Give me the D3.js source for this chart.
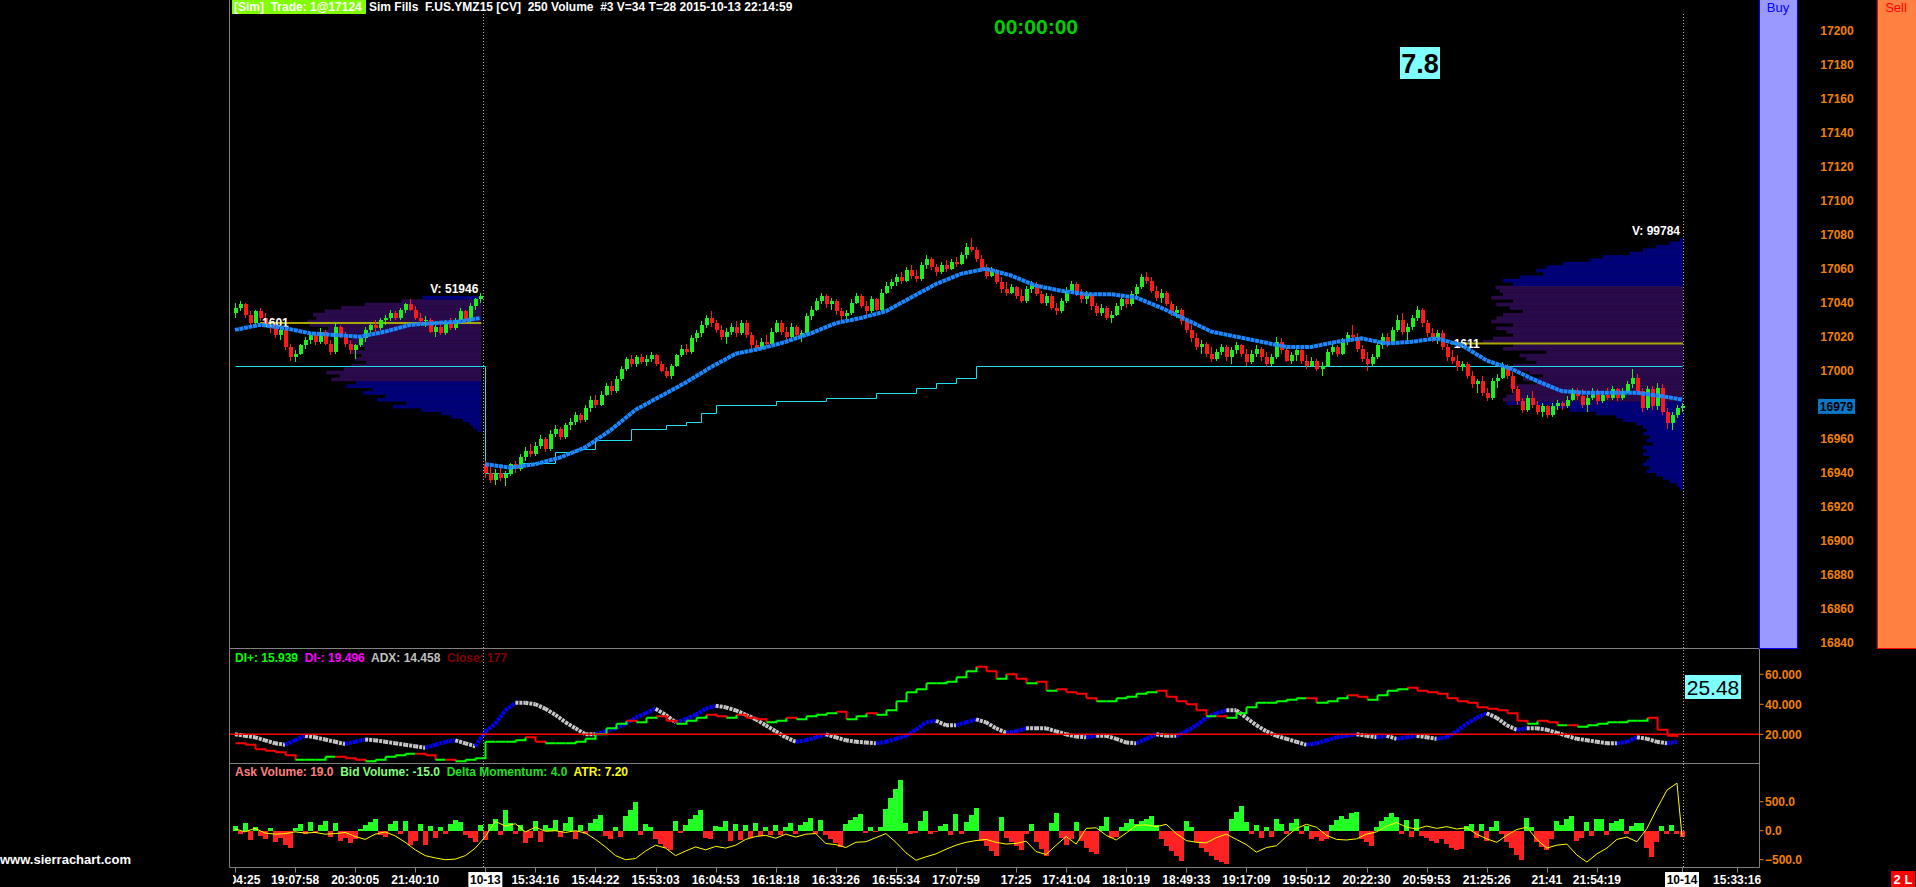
<!DOCTYPE html>
<html>
<head>
<meta charset="utf-8">
<style>
  html, body { margin: 0; padding: 0; background: #000; overflow: hidden; }
  svg { display: block; }
  text { font-family: "Liberation Sans", Arial, sans-serif; white-space: pre; }
</style>
</head>
<body>
<svg width="1916" height="887"></svg>
<script src="https://cdn.jsdelivr.net/npm/d3@7"></script>
<script>
// **** 250 volume bars, YMZ15, two sessions (10-12 night / 10-13 day) ****

// [open, high, low, close] per bar
const candles = [
  [17034,17040,17031,17037],[17037,17041,17035,17039],[17039,17040,17031,17033],[17033,17035,17026,17028],[17028,17036,17027,17035],
  [17035,17037,17029,17031],[17031,17034,17026,17027],[17027,17031,17022,17025],[17025,17028,17019,17021],[17021,17026,17018,17024],
  [17024,17025,17012,17014],[17014,17016,17006,17008],[17008,17012,17005,17010],[17010,17016,17009,17015],[17015,17020,17013,17018],
  [17018,17022,17016,17021],[17021,17023,17015,17017],[17017,17025,17016,17023],[17023,17024,17015,17016],[17016,17018,17009,17011],
  [17011,17028,17010,17026],[17026,17027,17019,17020],[17020,17023,17014,17016],[17016,17018,17010,17012],[17012,17016,17007,17015],
  [17015,17021,17014,17019],[17019,17026,17017,17024],[17024,17028,17022,17027],[17027,17030,17023,17025],[17025,17031,17024,17030],
  [17030,17033,17027,17031],[17031,17036,17029,17034],[17034,17035,17030,17031],[17031,17037,17030,17036],[17036,17040,17034,17039],
  [17039,17042,17035,17036],[17036,17038,17030,17031],[17031,17034,17027,17029],[17029,17032,17026,17030],[17030,17031,17022,17023],
  [17023,17028,17020,17026],[17026,17029,17021,17022],[17022,17030,17021,17028],[17028,17031,17024,17025],[17025,17031,17024,17030],
  [17030,17037,17029,17035],[17035,17036,17028,17029],[17029,17040,17028,17038],[17038,17043,17036,17042],[17042,17046,17040,17044],
  [16945,16947,16937,16940],[16940,16944,16934,16936],[16936,16942,16933,16940],[16940,16943,16935,16937],[16937,16941,16932,16939],
  [16939,16946,16938,16945],[16945,16947,16940,16942],[16942,16951,16941,16949],[16949,16955,16947,16953],[16953,16957,16949,16951],
  [16951,16958,16950,16956],[16956,16962,16954,16960],[16960,16961,16952,16954],[16954,16965,16953,16963],[16963,16968,16961,16966],
  [16966,16967,16959,16961],[16961,16969,16960,16968],[16968,16972,16965,16970],[16970,16976,16968,16974],[16974,16975,16969,16971],
  [16971,16980,16970,16978],[16978,16985,16976,16983],[16983,16986,16978,16980],[16980,16988,16979,16986],[16986,16993,16985,16991],
  [16991,16994,16986,16988],[16988,16997,16987,16995],[16995,17003,16994,17001],[17001,17008,17000,17007],[17007,17009,17002,17004],
  [17004,17009,17002,17008],[17008,17010,17004,17005],[17005,17009,17003,17007],[17007,17011,17005,17009],[17009,17010,17003,17004],
  [17004,17006,16999,17000],[17000,17002,16996,16997],[16997,17004,16995,17003],[17003,17010,17002,17009],[17009,17015,17008,17013],
  [17013,17016,17009,17011],[17011,17021,17010,17019],[17019,17024,17017,17022],[17022,17029,17020,17027],[17027,17033,17025,17031],
  [17031,17035,17026,17028],[17028,17030,17022,17024],[17024,17027,17018,17020],[17020,17025,17016,17023],[17023,17028,17021,17026],
  [17026,17029,17020,17022],[17022,17030,17021,17028],[17028,17030,17019,17021],[17021,17023,17013,17015],[17015,17018,17011,17013],
  [17013,17019,17012,17017],[17017,17021,17014,17016],[17016,17025,17015,17023],[17023,17030,17022,17028],[17028,17030,17021,17023],
  [17023,17026,17018,17020],[17020,17028,17019,17026],[17026,17027,17019,17021],[17021,17024,17017,17022],[17022,17034,17021,17032],
  [17032,17038,17030,17036],[17036,17043,17035,17041],[17041,17046,17039,17044],[17044,17045,17037,17039],[17039,17043,17036,17041],
  [17041,17042,17033,17035],[17035,17037,17030,17032],[17032,17036,17028,17034],[17034,17042,17033,17040],[17040,17046,17039,17044],
  [17044,17045,17037,17038],[17038,17041,17033,17035],[17035,17044,17034,17042],[17042,17043,17035,17036],[17036,17048,17035,17046],
  [17046,17052,17045,17050],[17050,17054,17048,17052],[17052,17057,17050,17055],[17055,17058,17051,17053],[17053,17061,17052,17059],
  [17059,17062,17054,17056],[17056,17059,17052,17054],[17054,17064,17053,17062],[17062,17068,17060,17066],[17066,17067,17059,17061],
  [17061,17063,17056,17058],[17058,17064,17057,17062],[17062,17065,17058,17060],[17060,17066,17059,17064],[17064,17067,17061,17063],
  [17063,17070,17062,17068],[17068,17075,17066,17073],[17073,17078,17070,17071],[17071,17073,17064,17066],[17066,17068,17058,17060],
  [17060,17063,17054,17056],[17056,17061,17055,17059],[17059,17060,17051,17052],[17052,17055,17046,17048],[17048,17052,17044,17046],
  [17046,17051,17045,17049],[17049,17050,17042,17044],[17044,17048,17040,17041],[17041,17050,17040,17048],[17048,17053,17046,17051],
  [17051,17052,17044,17045],[17045,17047,17039,17040],[17040,17046,17038,17044],[17044,17045,17036,17037],[17037,17040,17033,17035],
  [17035,17043,17034,17041],[17041,17049,17040,17047],[17047,17053,17045,17051],[17051,17052,17044,17046],[17046,17048,17040,17042],
  [17042,17047,17039,17045],[17045,17046,17036,17038],[17038,17040,17032,17034],[17034,17039,17032,17037],[17037,17038,17030,17031],
  [17031,17035,17028,17033],[17033,17040,17032,17038],[17038,17044,17036,17042],[17042,17044,17037,17039],[17039,17047,17038,17045],
  [17045,17051,17043,17049],[17049,17057,17048,17055],[17055,17058,17051,17053],[17053,17055,17046,17047],[17047,17050,17041,17043],
  [17043,17048,17040,17046],[17046,17047,17038,17039],[17039,17041,17032,17034],[17034,17038,17031,17036],[17036,17037,17027,17029],
  [17029,17031,17022,17024],[17024,17027,17017,17019],[17019,17022,17012,17014],[17014,17018,17010,17016],[17016,17017,17008,17010],
  [17010,17014,17005,17007],[17007,17013,17006,17011],[17011,17016,17009,17014],[17014,17015,17006,17008],[17008,17014,17004,17012],
  [17012,17017,17010,17015],[17015,17016,17008,17010],[17010,17013,17003,17005],[17005,17012,17004,17010],[17010,17015,17008,17013],
  [17013,17014,17006,17008],[17008,17011,17002,17004],[17004,17010,17003,17008],[17008,17020,17007,17017],[17017,17019,17010,17012],
  [17012,17014,17005,17006],[17006,17011,17004,17009],[17009,17014,17006,17012],[17012,17013,17004,17006],[17006,17009,17001,17003],
  [17003,17008,17002,17006],[17006,17007,17000,17001],[17001,17005,16997,17003],[17003,17013,17002,17011],[17011,17016,17009,17014],
  [17014,17015,17008,17010],[17010,17019,17009,17017],[17017,17023,17015,17021],[17021,17027,17018,17020],[17020,17022,17011,17013],
  [17013,17015,17005,17007],[17007,17011,17000,17004],[17004,17010,17002,17008],[17008,17017,17007,17015],[17015,17022,17013,17020],
  [17020,17022,17014,17016],[17016,17026,17015,17024],[17024,17033,17023,17030],[17030,17034,17021,17023],[17023,17028,17016,17026],
  [17026,17033,17024,17031],[17031,17038,17029,17036],[17036,17037,17026,17028],[17028,17030,17020,17022],[17022,17025,17017,17019],
  [17019,17024,17016,17022],[17022,17024,17012,17014],[17014,17016,17006,17008],[17008,17012,17004,17006],[17006,17009,17000,17002],
  [17002,17006,17000,17004],[17004,17005,16995,16997],[16997,17000,16990,16992],[16992,16995,16987,16994],[16994,16997,16985,16987],
  [16987,16990,16982,16984],[16984,16996,16983,16994],[16994,16998,16990,16996],[16996,17005,16995,17002],[17002,17004,16995,16997],
  [16997,16999,16987,16989],[16989,16991,16980,16982],[16982,16984,16975,16977],[16977,16986,16976,16984],[16984,16988,16978,16980],
  [16980,16982,16974,16976],[16976,16981,16973,16979],[16979,16980,16972,16974],[16974,16981,16973,16979],[16979,16983,16977,16981],
  [16981,16982,16977,16979],[16979,16985,16978,16983],[16983,16990,16982,16988],[16988,16990,16983,16985],[16985,16989,16978,16980],
  [16980,16986,16976,16984],[16984,16990,16983,16988],[16988,16989,16980,16982],[16982,16988,16981,16986],[16986,16990,16983,16984],
  [16984,16991,16983,16989],[16989,16990,16982,16984],[16984,16990,16983,16988],[16988,16994,16987,16992],[16992,17001,16990,16996],
  [16996,16998,16986,16988],[16988,16990,16976,16978],[16978,16991,16977,16989],[16989,16991,16977,16979],[16979,16993,16977,16990],
  [16990,16992,16974,16976],[16976,16978,16966,16969],[16969,16976,16965,16974],[16974,16980,16972,16978],[16978,16981,16976,16979]
];

// session split (first bar of each session)
const sessionStarts = [0, 50];

// moving average, read at these bars
const maBars = [0,5,10,15,20,25,30,35,40,45,49,
  50,55,60,65,70,75,80,85,90,95,100,105,110,115,120,125,130,135,140,145,150,155,160,165,170,175,180,185,190,195,
  200,205,210,215,220,225,230,235,240,245,250,255,260,265,270,275,280,285,289];
const maValues = [17024,17027,17025,17022,17021,17020,17023,17027,17028,17029,17031,
  16945,16943,16945,16949,16955,16965,16977,16985,16993,17002,17010,17013,17017,17022,17028,17031,17035,17043,17051,17057,
  17060,17056,17050,17047,17045,17045,17043,17037,17030,17023,17020,17017,17014,17014,17017,17019,17016,17017,17019,17015,
  17006,17001,16994,16988,16987,16987,16987,16985,16983];

// cyan step line
const cyanBars = [0,49,50,55,57,64,68,72,79,86,90,93,96,108,118,128,136,140,144,148,289];
const cyanValues = [17003,17003,16940,16944,16946,16952,16954,16959,16966,16968,16970,16975,16980,16982,16984,16987,16990,16993,16996,17003,17003];

// volume profiles, rows of 2 points from the low price up
const profileLows = [16964, 16930];
const valueAreas = [[16994, 17040], [16982, 17049]];
const profileLeftVol = [50,100,140,220,360,480,720,1060,900,1250,1150,1420,1300,1620,1500,1800,1700,1860,1650,1560,
  1380,1520,1440,1560,1400,1580,1640,1560,1800,1900,1840,2060,2090,1980,2020,1880,1680,1400,960,710];
const profileRightVol = [40,80,160,240,320,440,400,480,440,400,480,440,480,360,440,400,480,440,480,560,
  720,800,1040,1360,1560,2120,2160,2120,2040,1960,2080,1760,1920,1680,1840,2160,2040,1760,1880,1960,
  1640,2160,2040,2400,2280,2040,2120,2240,2040,2300,2240,2160,1920,2080,2240,2040,2300,2160,2200,2250,
  2040,2160,1960,1680,1760,1640,1440,1120,960,640,480,320,160,40];
const profileTotals = ["V: 51946", "V: 99784"];
const pocPrices = [17028, 17016];
const pocStartBars = [5, 243];
const pocLabels = ["1601", "1611"];

// DMI pane, one value every 2 bars
const diValues = [14,13,10,9,8,6,3,3,3,5,5,4,3,2,3,5,6,7,7,6,3,3,2,3,4,
  15,15,15,16,18,15,14,14,14,15,17,20,24,27,29,28,31,32,29,27,
  29,31,33,32,31,33,31,30,28,29,31,30,32,33,34,35,30,32,34,33,
  36,42,48,50,54,54,55,58,62,65,62,57,60,57,54,55,49,50,48,47,
  44,42,42,44,45,47,48,49,45,42,40,36,32,32,31,34,38,41,41,42,
  43,44,44,41,42,44,46,45,43,46,49,50,51,49,48,47,44,42,41,38,
  37,36,34,29,27,29,28,26,26,25,26,27,28,28,29,29,31,23,19,18];
const adxValues = [20,19,18,16,14,13,16,19,18,16.5,15,13.5,15,16.5,16,15,14,13,12,11,13,15,16,14,12,
  22,27,36,41,41,40,37,33,28,24,20,20,22,24,27,31,34,37,33,28,
  30,33,37,39,38,36,33,30,26,22,18,15,16,18,20,18,16,15,14.5,14,
  15,17,19,23,28,29,26,26,28,30,28,24,21,22,24,24,24,22,20,18.5,
  18,19,19,17,14.5,14,17,20,19,19,22,26,31,34,36,36,31,26,22,19,
  17,15,13,14,16,18,19,20,19,18,19,17,18,19,18,17,18,22,27,31,
  34,31,26,23,24,24,23,21,19,17,16,15,14,14,15,18,17,15,14,15];
const adxLevel = 20;

// delta pane, one bar per price bar
const deltaValues = [80,-60,130,-160,60,-90,-140,40,-200,-120,
  -250,-300,40,120,-60,150,-40,100,160,-100,
  140,-180,-120,-220,-150,30,90,150,210,-80,
  -100,110,160,-60,170,-250,-180,120,-240,80,
  -120,60,-50,110,180,150,-70,-120,-190,90,
  -160,120,200,-80,350,130,-60,90,-220,-130,
  160,-200,90,50,180,-110,130,230,-140,90,
  -60,140,200,270,-90,-150,60,-100,250,350,
  500,-70,120,60,-150,-230,-290,-330,170,-40,
  90,200,270,356,-120,-150,80,60,160,-180,
  120,-160,90,-120,130,-90,60,-70,100,-80,
  60,140,-60,100,150,212,-50,184,-80,-150,
  -210,-276,110,180,240,287,-40,60,-30,60,
  370,560,720,874,130,-58,-40,170,333,-50,
  -30,80,110,-70,287,-60,150,270,390,-170,
  -260,-350,-431,230,-120,-190,-260,-333,-60,120,
  -200,-320,-431,140,300,-120,-250,-140,150,-180,
  -290,-360,-402,80,230,-120,-110,60,140,200,
  110,160,210,258,90,-150,-260,-350,-440,-529,
  170,60,-200,-290,-370,-440,-500,-540,-575,200,
  330,431,150,-50,100,-130,60,-100,200,120,
  -60,130,200,-50,80,-150,-100,-180,-150,100,
  180,250,200,300,320,-150,-200,-259,60,160,
  240,300,230,-60,180,-110,210,-90,-120,-170,
  -213,-150,-230,-290,-333,-310,80,120,-130,110,
  -180,70,160,-60,-200,-300,-420,-500,218,60,
  -200,-280,-333,-150,170,90,200,258,-180,-120,
  150,-90,200,195,-75,130,170,195,-50,80,
  140,140,-300,-460,-190,80,-60,100,-60,-100];
// yellow line, one value every 2 bars, last one on the final bar
const atrValues = [30,-20,40,-40,-60,-50,-20,-40,-30,-60,-50,-30,-100,-150,-60,-20,-90,-200,-330,-430,-470,-500,-490,-430,-300,
  -100,160,80,120,-20,60,-10,0,-30,0,
  -40,-150,-280,-430,-500,-480,-350,-250,-300,-430,
  -350,-280,-330,-270,-300,-250,-150,-100,-80,-130,
  -60,-110,-60,-50,-220,-240,-290,-200,-190,-120,
  -50,-200,-380,-510,-450,-400,-320,-250,-200,-170,
  -150,-200,-230,-220,-180,-360,-410,-250,-100,-230,
  40,50,-80,-160,-40,90,100,70,110,-50,
  -170,-200,-210,-120,-60,-150,-240,-370,-290,-260,
  -100,40,110,60,-80,-150,-160,-140,-60,-20,
  80,140,60,30,80,40,70,30,50,-60,
  -140,-200,-80,20,60,-150,-300,-250,-230,-420,
  -540,-400,-300,-150,-110,-190,40,380,700,820,
  -100];

// axes
const priceTicks = [16840,16860,16880,16900,16920,16940,16960,17000,17020,17040,17060,17080,17100,17120,17140,17160,17180,17200];
const lastPrice = 16979;
const diTicks = [20, 40, 60];
const deltaTicks = [500, 0, -500];
const timeLabels = ["04:25","19:07:58","20:30:05","21:40:10","10-13","15:34:16","15:44:22","15:53:03","16:04:53","16:18:18",
  "16:33:26","16:55:34","17:07:59","17:25","17:41:04","18:10:19","18:49:33","19:17:09","19:50:12","20:22:30",
  "20:59:53","21:25:26","21:41","21:54:19","10-14","15:33:16"];
const timeBars = [0,12,24,36,50,60,72,84,96,108,120,132,144,156,166,178,190,202,214,226,238,250,262,272,289,300];
const dateLabels = ["10-13", "10-14"];

// ---------------------------------------------------------------
var svg = d3.select('svg');
var N = candles.length;

var up = '#1ef01e', down = '#ff1a1a', gray = '#808080', orange = '#f08000';
var paneLeft = 229.5, paneRight = 1759.5;
var mainTop = 12, mainBottom = 648.5, ind1Bottom = 763.5, ind2Bottom = 867.5;

var x = d3.scaleLinear().domain([0, N - 1]).range([235, 1682]);
var xb = i => Math.round(x(i)) + 0.5;
var yPrice = d3.scaleLinear().domain([16840, 17200]).range([642.7, 30.7]);
var yDI = d3.scaleLinear().domain([0, 60]).range([764.3, 674.3]);
var yDelta = d3.scaleLinear().domain([-500, 500]).range([859.7, 801.7]);
var volW = d3.scaleLinear().domain([0, 2400]).range([0, 200]);
var halfIdx = k => Math.min(k * 2, N - 1);

var defs = svg.append('defs');
function clip(id, y0, y1) {
  defs.append('clipPath').attr('id', id).append('rect')
    .attr('x', 230).attr('y', y0).attr('width', paneRight - 230).attr('height', y1 - y0);
}
clip('cMain', mainTop, mainBottom);
clip('cInd1', mainBottom + 0.5, ind1Bottom);
clip('cInd2', ind1Bottom + 0.5, ind2Bottom);
defs.append('clipPath').attr('id', 'cTime').append('rect')
  .attr('x', 233).attr('y', ind2Bottom).attr('width', 1540).attr('height', 20);

var main = svg.append('g').attr('clip-path', 'url(#cMain)');

function sessionEnd(k) {
  return k + 1 < sessionStarts.length ? sessionStarts[k + 1] - 1 : N - 1;
}

// volume profiles
sessionStarts.forEach(function (s, k) {
  var right = x(sessionEnd(k)) + 1;
  var vols = k === 0 ? profileLeftVol : profileRightVol;
  var low = profileLows[k];
  var va = valueAreas[k];
  main.append('g').selectAll('rect').data(vols).join('rect')
    .attr('x', d => right - volW(d))
    .attr('width', d => volW(d))
    .attr('y', (d, j) => yPrice(low + j * 2 + 2))
    .attr('height', (d, j) => yPrice(low + j * 2) - yPrice(low + j * 2 + 2) + 0.3)
    .attr('fill', (d, j) => (low + j * 2 >= va[0] && low + j * 2 <= va[1]) ? '#2a0a4a' : '#000078');

  var top = low + vols.length * 2;
  main.append('text').attr('x', right - 3).attr('y', yPrice(top) - 3)
    .attr('text-anchor', 'end').attr('fill', '#fff').attr('font-size', 12).attr('font-weight', 'bold')
    .text(profileTotals[k]);

  main.append('line')
    .attr('x1', x(pocStartBars[k])).attr('x2', right)
    .attr('y1', yPrice(pocPrices[k])).attr('y2', yPrice(pocPrices[k]))
    .attr('stroke', '#a8a800').attr('stroke-width', 2);
});

// cyan step line
main.append('path')
  .datum(cyanBars.map((b, j) => [b, cyanValues[j]]))
  .attr('d', d3.line().x(d => xb(d[0])).y(d => Math.round(yPrice(d[1])) + 0.5).curve(d3.curveStepAfter))
  .attr('fill', 'none').attr('stroke', '#20e0f0').attr('stroke-width', 1);

// candles
var cg = main.append('g').attr('shape-rendering', 'crispEdges');
cg.selectAll('line').data(candles).join('line')
  .attr('x1', (d, i) => xb(i)).attr('x2', (d, i) => xb(i))
  .attr('y1', d => yPrice(d[1])).attr('y2', d => yPrice(d[2]))
  .attr('stroke', d => d[3] >= d[0] ? up : down).attr('stroke-width', 1);
cg.selectAll('rect').data(candles).join('rect')
  .attr('x', (d, i) => Math.round(x(i)) - 1.5).attr('width', 4)
  .attr('y', d => yPrice(Math.max(d[0], d[3])))
  .attr('height', d => Math.max(1, Math.abs(yPrice(d[0]) - yPrice(d[3]))))
  .attr('fill', d => d[3] >= d[0] ? up : down);

// point of control labels, over the bars
sessionStarts.forEach(function (s, k) {
  main.append('text').attr('x', x(pocStartBars[k]) + 2).attr('y', yPrice(pocPrices[k]) + 4)
    .attr('fill', '#fff').attr('font-size', 12).attr('font-weight', 'bold').text(pocLabels[k]);
});

// moving average, one path per session
var maLine = d3.line().x(d => x(d[0])).y(d => yPrice(d[1]));
sessionStarts.forEach(function (s, k) {
  var pts = maBars.map((b, j) => [b, maValues[j]]).filter(p => p[0] >= s && p[0] <= sessionEnd(k));
  main.append('path').datum(pts).attr('d', maLine)
    .attr('fill', 'none').attr('stroke', '#1a88ff').attr('stroke-width', 4)
    .attr('stroke-dasharray', '4,0.6');
});

// ---- DMI pane ----
var ind1 = svg.append('g').attr('clip-path', 'url(#cInd1)');
for (let k = 1; k < adxValues.length; k++) {
  ind1.append('line')
    .attr('x1', x(halfIdx(k - 1))).attr('x2', x(halfIdx(k)))
    .attr('y1', yDI(adxValues[k - 1])).attr('y2', yDI(adxValues[k]))
    .attr('stroke', adxValues[k] > adxValues[k - 1] ? '#0000ff' : '#c8c8c8')
    .attr('stroke-width', 4).attr('stroke-dasharray', '3,1');
}
for (let k = 1; k < diValues.length; k++) {
  var a = diValues[k - 1], b = diValues[k];
  ind1.append('path')
    .attr('d', 'M' + xb(halfIdx(k - 1)) + ',' + yDI(a) + 'H' + xb(halfIdx(k)) + 'V' + yDI(b))
    .attr('fill', 'none').attr('stroke', b >= a ? '#00ff00' : '#ff0000').attr('stroke-width', 2);
}
ind1.append('line').attr('x1', paneLeft).attr('x2', paneRight)
  .attr('y1', yDI(adxLevel)).attr('y2', yDI(adxLevel)).attr('stroke', '#ff0000').attr('stroke-width', 1.5);

// ---- delta pane ----
var ind2 = svg.append('g').attr('clip-path', 'url(#cInd2)');
ind2.append('g').attr('shape-rendering', 'crispEdges').selectAll('rect').data(deltaValues).join('rect')
  .attr('x', (d, i) => x(i) - 2.5).attr('width', 5)
  .attr('y', d => yDelta(Math.max(0, d)))
  .attr('height', d => Math.abs(yDelta(d) - yDelta(0)))
  .attr('fill', d => d >= 0 ? '#22ff22' : '#ff2222');
ind2.append('path').datum(atrValues)
  .attr('d', d3.line().x((d, k) => x(halfIdx(k))).y(d => yDelta(d)))
  .attr('fill', 'none').attr('stroke', '#ffff00').attr('stroke-width', 1);

// ---- frame ----
var frame = svg.append('g').attr('stroke', gray).attr('stroke-width', 1);
frame.append('line').attr('x1', paneLeft).attr('x2', paneLeft).attr('y1', 0).attr('y2', ind2Bottom);
[mainBottom, ind1Bottom, ind2Bottom].forEach(function (yy) {
  frame.append('line').attr('x1', paneLeft).attr('x2', paneRight).attr('y1', yy).attr('y2', yy);
});
frame.append('line').attr('x1', paneRight).attr('x2', paneRight).attr('y1', mainBottom).attr('y2', ind2Bottom);

// day divider and last bar markers
[(x(sessionStarts[1] - 1) + x(sessionStarts[1])) / 2, x(N - 1) + 1].forEach(function (xx) {
  svg.append('line').attr('x1', Math.round(xx) + 0.5).attr('x2', Math.round(xx) + 0.5)
    .attr('y1', 14).attr('y2', ind2Bottom)
    .attr('stroke', '#b0b0b0').attr('stroke-width', 1).attr('stroke-dasharray', '1,2');
});

// ---- Buy / Sell columns ----
svg.append('rect').attr('x', 1759.5).attr('y', -1).attr('width', 38).attr('height', mainBottom + 1)
  .attr('fill', '#9999ff').attr('stroke', '#0000ff').attr('stroke-width', 1);
svg.append('text').attr('x', 1778).attr('y', 12).attr('text-anchor', 'middle')
  .attr('fill', '#0000ff').attr('font-size', 13).text('Buy');
svg.append('rect').attr('x', 1877.5).attr('y', -1).attr('width', 40).attr('height', mainBottom + 1)
  .attr('fill', '#ff8040').attr('stroke', '#ff0000').attr('stroke-width', 1);
svg.append('text').attr('x', 1896).attr('y', 12).attr('text-anchor', 'middle')
  .attr('fill', '#ff0000').attr('font-size', 13).text('Sell');

// price scale
svg.append('g').selectAll('text').data(priceTicks).join('text')
  .attr('x', 1837).attr('y', d => yPrice(d) + 4.5).attr('text-anchor', 'middle')
  .attr('fill', orange).attr('font-size', 12).attr('font-weight', 'bold').text(d => d);
svg.append('rect').attr('x', 1818).attr('y', yPrice(lastPrice) - 7.5).attr('width', 37).attr('height', 15)
  .attr('fill', '#0a78c8');
svg.append('text').attr('x', 1836.5).attr('y', yPrice(lastPrice) + 4.5).attr('text-anchor', 'middle')
  .attr('fill', '#000').attr('font-size', 12).attr('font-weight', 'bold').text(lastPrice);

// pane scales
function paneScale(ticks, y, fmt) {
  var g = svg.append('g');
  g.selectAll('line').data(ticks).join('line')
    .attr('x1', paneRight).attr('x2', paneRight + 4).attr('y1', d => y(d)).attr('y2', d => y(d))
    .attr('stroke', orange);
  g.selectAll('text').data(ticks).join('text')
    .attr('x', 1765).attr('y', d => y(d) + 4.5).attr('fill', orange)
    .attr('font-size', 12).attr('font-weight', 'bold').text(fmt);
}
paneScale(diTicks, yDI, d3.format('.3f'));
paneScale(deltaTicks, yDelta, d3.format('.1f'));

// ---- time axis ----
var tg = svg.append('g');
tg.selectAll('line').data(timeBars).join('line')
  .attr('x1', d => xb(d)).attr('x2', d => xb(d)).attr('y1', ind2Bottom).attr('y2', ind2Bottom + 5)
  .attr('stroke', gray);
var tl = tg.append('g').attr('clip-path', 'url(#cTime)');
timeLabels.forEach(function (t, k) {
  var cx = k === 0 ? x(timeBars[k]) + 10 : x(timeBars[k]);
  if (dateLabels.indexOf(t) >= 0) {
    tl.append('rect').attr('x', cx - 17).attr('y', 872).attr('width', 34).attr('height', 15).attr('fill', '#fff');
  }
  tl.append('text').attr('x', cx).attr('y', 884).attr('text-anchor', 'middle')
    .attr('fill', dateLabels.indexOf(t) >= 0 ? '#000' : '#fff')
    .attr('font-size', 12).attr('font-weight', 'bold').text(t);
});

// ---- header / labels ----
svg.append('rect').attr('x', 232).attr('y', 0).attr('width', 134).attr('height', 14).attr('fill', '#80ff00');
svg.append('text').attr('x', 234).attr('y', 11).attr('fill', '#fff').attr('font-size', 12).attr('font-weight', 'bold')
  .text('[Sim]  Trade: 1@17124');
svg.append('text').attr('x', 369).attr('y', 11).attr('fill', '#fff').attr('font-size', 12).attr('font-weight', 'bold')
  .text('Sim Fills  F.US.YMZ15 [CV]  250 Volume  #3 V=34 T=28 2015-10-13 22:14:59');

svg.append('text').attr('x', 1036).attr('y', 34).attr('text-anchor', 'middle')
  .attr('fill', '#00d000').attr('font-size', 21).attr('font-weight', 'bold').text('00:00:00');

svg.append('rect').attr('x', 1400).attr('y', 47).attr('width', 40).attr('height', 32).attr('fill', '#80ffff');
svg.append('text').attr('x', 1420).attr('y', 73).attr('text-anchor', 'middle')
  .attr('fill', '#000').attr('font-size', 27).attr('font-weight', 'bold').text('7.8');

svg.append('rect').attr('x', 1685).attr('y', 675).attr('width', 56).attr('height', 24).attr('fill', '#80ffff');
svg.append('text').attr('x', 1713).attr('y', 695).attr('text-anchor', 'middle')
  .attr('fill', '#000').attr('font-size', 21).text('25.48');

var leg1 = svg.append('text').attr('x', 235).attr('y', 662).attr('font-size', 12).attr('font-weight', 'bold');
leg1.append('tspan').attr('fill', '#00ff00').text('DI+: 15.939  ');
leg1.append('tspan').attr('fill', '#ff00ff').text('DI-: 19.496  ');
leg1.append('tspan').attr('fill', '#c0c0c0').text('ADX: 14.458  ');
leg1.append('tspan').attr('fill', '#800000').text('Close: 177');

var leg2 = svg.append('text').attr('x', 235).attr('y', 776).attr('font-size', 12).attr('font-weight', 'bold');
leg2.append('tspan').attr('fill', '#ff8080').text('Ask Volume: 19.0  ');
leg2.append('tspan').attr('fill', '#80ff80').text('Bid Volume: -15.0  ');
leg2.append('tspan').attr('fill', '#20e020').text('Delta Momentum: 4.0  ');
leg2.append('tspan').attr('fill', '#ffff00').text('ATR: 7.20');

svg.append('text').attr('x', 0).attr('y', 864).attr('fill', '#fff').attr('font-size', 13).attr('font-weight', 'bold')
  .text('www.sierrachart.com');

svg.append('rect').attr('x', 1891).attr('y', 871).attr('width', 24).attr('height', 16).attr('fill', '#ff0000');
svg.append('text').attr('x', 1903).attr('y', 884).attr('text-anchor', 'middle')
  .attr('fill', '#fff').attr('font-size', 13).attr('font-weight', 'bold').text('2 L');
</script>
</body>
</html>
